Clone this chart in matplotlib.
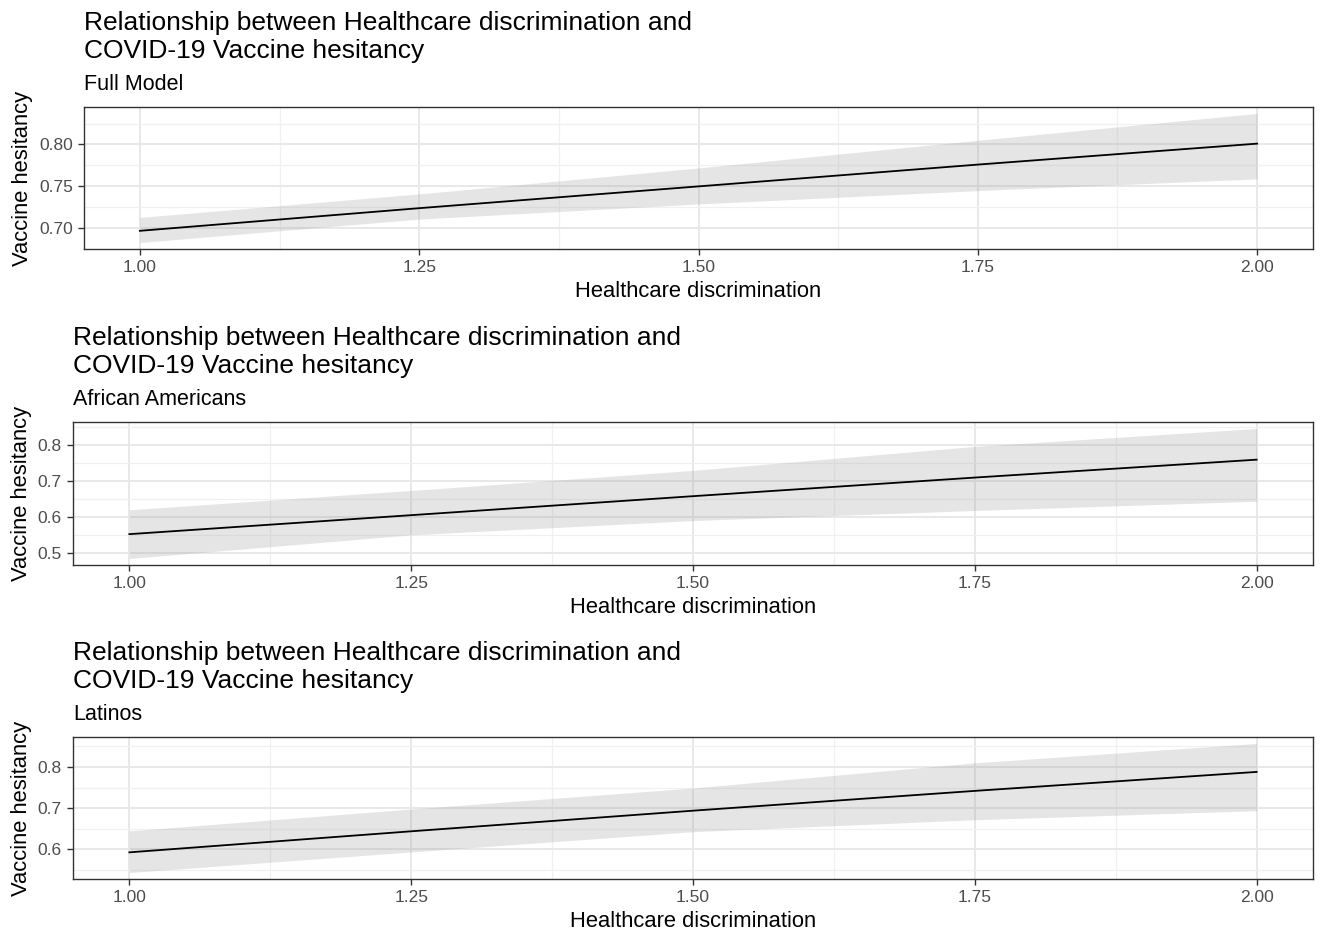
import numpy as np
import matplotlib
matplotlib.use("Agg")
import matplotlib.pyplot as plt
from matplotlib.ticker import FixedLocator

plt.rcParams['font.family'] = ['Liberation Sans', 'DejaVu Sans']

# predicted values
disc = [1.00, 1.25, 1.50, 1.75, 2.00]

full_fit = [0.697, 0.724, 0.750, 0.776, 0.801]
full_hi = [0.713, 0.741, 0.772, 0.805, 0.837]
full_lo = [0.683, 0.711, 0.729, 0.745, 0.759]

aa_fit = [0.552, 0.605, 0.658, 0.710, 0.760]
aa_hi = [0.620, 0.674, 0.730, 0.797, 0.847]
aa_lo = [0.484, 0.550, 0.590, 0.618, 0.644]

lat_fit = [0.593, 0.644, 0.694, 0.742, 0.788]
lat_hi = [0.645, 0.698, 0.749, 0.810, 0.857]
lat_lo = [0.544, 0.594, 0.643, 0.672, 0.694]

subtitles = ["Full Model", "African Americans", "Latinos"]
y_major = [[0.70, 0.75, 0.80], [0.5, 0.6, 0.7, 0.8], [0.6, 0.7, 0.8]]
y_minor = [[0.675, 0.725, 0.775, 0.825], [0.45, 0.55, 0.65, 0.75, 0.85], [0.55, 0.65, 0.75, 0.85]]
y_fmt = ["{:.2f}", "{:.1f}", "{:.1f}"]
x_major = [1.00, 1.25, 1.50, 1.75, 2.00]
x_minor = [1.125, 1.375, 1.625, 1.875]

title = "Relationship between Healthcare discrimination and\nCOVID-19 Vaccine hesitancy"

W, H = 1320, 932
fig = plt.figure(figsize=(W / 100, H / 100), dpi=100)
# panel boxes in pixels: left, right, top, bottom
boxes = [(84, 1313, 107, 249), (73, 1313, 422, 565), (73, 1313, 737, 879)]

series = [(full_fit, full_lo, full_hi), (aa_fit, aa_lo, aa_hi), (lat_fit, lat_lo, lat_hi)]

for i, (fit, lo, hi) in enumerate(series):
    l, r, t, b = boxes[i]
    ax = fig.add_axes([l / W, 1 - b / H, (r - l) / W, (b - t) / H])
    ax.fill_between(disc, lo, hi, color='#999999', alpha=0.25, lw=0, zorder=2)
    ax.plot(disc, fit, color='black', lw=1.3, zorder=3)
    ax.margins(x=0.05, y=0.05)

    ax.xaxis.set_major_locator(FixedLocator(x_major))
    ax.xaxis.set_minor_locator(FixedLocator(x_minor))
    ax.set_xticklabels(["{:.2f}".format(v) for v in x_major])
    ax.yaxis.set_major_locator(FixedLocator(y_major[i]))
    ax.yaxis.set_minor_locator(FixedLocator(y_minor[i]))
    ax.set_yticklabels([y_fmt[i].format(v) for v in y_major[i]])

    ax.grid(True, which='major', color='#E8E8E8', lw=1.4, zorder=0)
    ax.grid(True, which='minor', color='#F0F0F0', lw=0.9, zorder=0)
    ax.set_axisbelow(True)
    ax.tick_params(which='major', length=4, width=1, color='#333333',
                   labelcolor='#4D4D4D', labelsize=12.5, pad=4)
    ax.tick_params(which='minor', length=0)
    for s in ax.spines.values():
        s.set_color('#333333')
        s.set_linewidth(1)

    ax.set_xlabel("Healthcare discrimination", fontsize=15.8, labelpad=4)
    ax.set_ylabel("Vaccine hesitancy", fontsize=15.8, labelpad=4)

    ax.annotate(title, xy=(0, 1), xycoords='axes fraction', xytext=(0, 32),
                textcoords='offset points', ha='left', va='bottom',
                fontsize=19, linespacing=1.2)
    ax.annotate(subtitles[i], xy=(0, 1), xycoords='axes fraction', xytext=(0, 8.5),
                textcoords='offset points', ha='left', va='bottom', fontsize=15.5)

fig.savefig("out.png", dpi=100)
